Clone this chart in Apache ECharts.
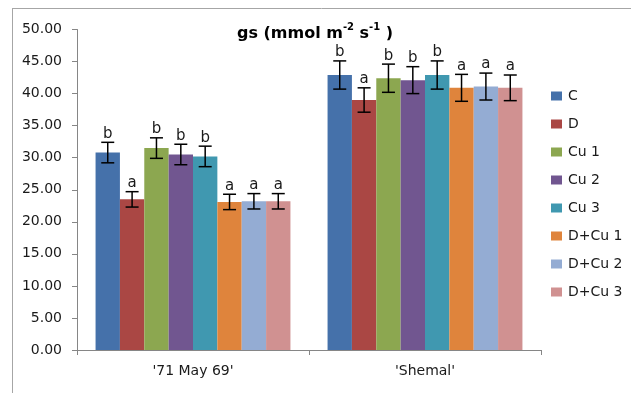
<!DOCTYPE html>
<html><head><meta charset="utf-8">
<script src="https://cdn.jsdelivr.net/npm/echarts@6/dist/echarts.min.js"></script>
<style>html,body{margin:0;padding:0;background:#fff}#c{width:631px;height:393px}</style>
</head><body><div id="c"></div>
<script>
const categories = ["'71 May 69'", "'Shemal'"];
const seriesNames = ['C', 'D', 'Cu 1', 'Cu 2', 'Cu 3', 'D+Cu 1', 'D+Cu 2', 'D+Cu 3'];
const colors = ['#4571AA', '#AA4744', '#8CA750', '#715690', '#4098B0', '#DF843C', '#94ACD3', '#D09191'];
// values per series: [May69, Shemal]
const valC    = [30.8, 42.9];
const valD    = [23.5, 39.0];
const valCu1  = [31.5, 42.4];
const valCu2  = [30.5, 42.1];
const valCu3  = [30.2, 42.9];
const valDCu1 = [23.1, 40.9];
const valDCu2 = [23.2, 41.1];
const valDCu3 = [23.2, 40.9];
const errC    = [1.6, 2.2];
const errD    = [1.2, 1.9];
const errCu1  = [1.6, 2.2];
const errCu2  = [1.6, 2.1];
const errCu3  = [1.6, 2.2];
const errDCu1 = [1.2, 2.1];
const errDCu2 = [1.2, 2.1];
const errDCu3 = [1.2, 2.0];
const letC    = ['b', 'b'];
const letD    = ['a', 'a'];
const letCu1  = ['b', 'b'];
const letCu2  = ['b', 'b'];
const letCu3  = ['b', 'b'];
const letDCu1 = ['a', 'a'];
const letDCu2 = ['a', 'a'];
const letDCu3 = ['a', 'a'];
const yTicks = [0, 5, 10, 15, 20, 25, 30, 35, 40, 45, 50];

const values = [valC, valD, valCu1, valCu2, valCu3, valDCu1, valDCu2, valDCu3];
const errors = [errC, errD, errCu1, errCu2, errCu3, errDCu1, errDCu2, errDCu3];
const letters = [letC, letD, letCu1, letCu2, letCu3, letDCu1, letDCu2, letDCu3];

const FONT = 'DejaVu Sans';
const chart = echarts.init(document.getElementById('c'));
const nS = seriesNames.length;
const catGap = 0.16;

const series = [];
seriesNames.forEach((name, i) => {
  series.push({
    name, type: 'bar', data: values[i], barGap: '0%', barCategoryGap: '16%',
    itemStyle: { color: colors[i] }, z: 2
  });
});
seriesNames.forEach((name, i) => {
  series.push({
    type: 'custom', name: name + '_err', z: 5, silent: true,
    data: values[i].map((v, k) => [k, v, errors[i][k], letters[i][k]]),
    renderItem: function (params, api) {
      const k = api.value(0), v = api.value(1), e = api.value(2);
      const center = api.coord([k, 0]);
      const catW = api.size([1, 0])[0];
      const barW = catW * (1 - catGap) / nS;
      const x = center[0] - catW * (1 - catGap) / 2 + barW * (i + 0.5);
      const top = api.coord([k, v + e])[1];
      const bot = api.coord([k, v - e])[1];
      const hw = 6.5;
      const st = { stroke: '#000', lineWidth: 1.5 };
      return {
        type: 'group', children: [
          { type: 'line', shape: { x1: x, y1: top, x2: x, y2: bot }, style: st },
          { type: 'line', shape: { x1: x - hw, y1: top, x2: x + hw, y2: top }, style: st },
          { type: 'line', shape: { x1: x - hw, y1: bot, x2: x + hw, y2: bot }, style: st },
          { type: 'text', style: { x: x, y: top - 1, text: letters[i][k], textAlign: 'center', textVerticalAlign: 'bottom',
              font: '15px "' + FONT + '"', fill: '#1a1a1a' } }
        ]
      };
    }
  });
});

chart.setOption({
  animation: false,
  title: {
    text: '{b|gs (mmol m}{s|-2}{b| s}{s|-1}{b| )}',
    left: 232, top: 17,
    textStyle: {
      fontSize: 16, fontWeight: 'bold', fontFamily: FONT,
      rich: {
        b: { fontFamily: FONT, fontWeight: 'bold', fontSize: 16, color: '#000', verticalAlign: 'bottom', lineHeight: 20 },
        s: { fontFamily: FONT, fontWeight: 'bold', fontSize: 10, color: '#000', verticalAlign: 'top', lineHeight: 20, padding: [0, 0, 7, 0] }
      }
    }
  },
  legend: {
    orient: 'vertical', left: 546, top: 84,
    itemWidth: 11, itemHeight: 9, itemGap: 14, icon: 'rect',
    data: seriesNames,
    textStyle: { fontFamily: FONT, fontSize: 14, color: '#1a1a1a', padding: [0, 0, 0, 1] }
  },
  grid: { left: 77, right: 90, top: 29.5, bottom: 43, containLabel: false },
  xAxis: {
    type: 'category', data: categories,
    axisLine: { lineStyle: { color: '#868686', width: 1 } },
    axisTick: { show: true, length: 5, lineStyle: { color: '#868686' } },
    axisLabel: { fontFamily: FONT, fontSize: 14, color: '#1a1a1a', margin: 14 }
  },
  yAxis: {
    type: 'value', min: 0, max: 50, interval: 5,
    axisLine: { show: true, lineStyle: { color: '#868686', width: 1 } },
    axisTick: { show: true, length: 5, lineStyle: { color: '#868686' } },
    splitLine: { show: false },
    axisLabel: { fontFamily: FONT, fontSize: 14, color: '#1a1a1a', margin: 15,
      formatter: v => yTicks.includes(v) ? v.toFixed(2) : '' }
  },
  graphic: [
    { type: 'line', shape: { x1: 12, y1: 8.5, x2: 631, y2: 8.5 }, style: { stroke: '#a6a6a6', lineWidth: 1 } },
    { type: 'line', shape: { x1: 12.5, y1: 8, x2: 12.5, y2: 393 }, style: { stroke: '#a6a6a6', lineWidth: 1 } }
  ],
  series
});
</script></body></html>
